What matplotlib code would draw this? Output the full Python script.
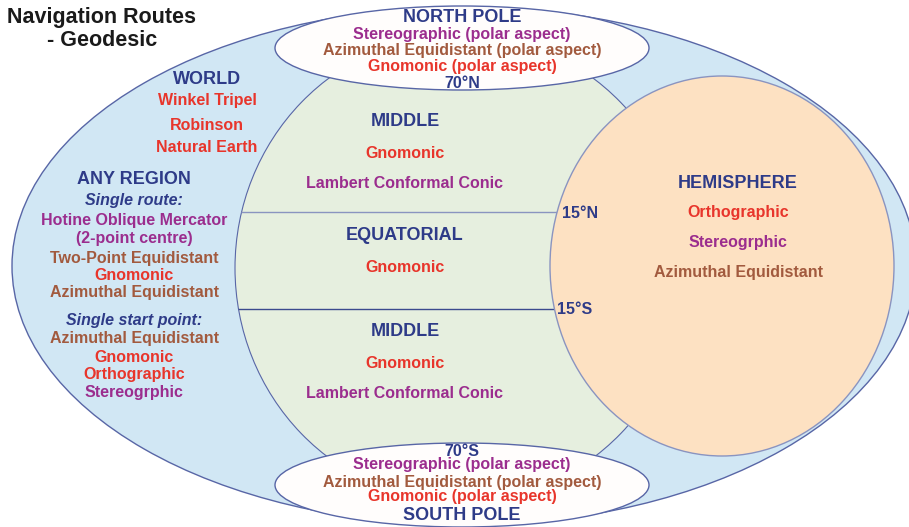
import matplotlib
matplotlib.use("Agg")
import matplotlib.pyplot as plt
from matplotlib.patches import Ellipse

plt.rcParams['font.family'] = ['Liberation Sans', 'DejaVu Sans']

# ---- content ----
title_lines = ["Navigation Routes", "- Geodesic"]
north_items = ["Stereographic (polar aspect)", "Azimuthal Equidistant (polar aspect)", "Gnomonic (polar aspect)"]
south_items = ["Stereographic (polar aspect)", "Azimuthal Equidistant (polar aspect)", "Gnomonic (polar aspect)"]
world_items = ["Winkel Tripel", "Robinson", "Natural Earth"]
single_route_items = ["Hotine Oblique Mercator", "(2-point centre)", "Two-Point Equidistant",
                      "Gnomonic", "Azimuthal Equidistant"]
single_start_items = ["Azimuthal Equidistant", "Gnomonic", "Orthographic", "Stereogrphic"]
middle_items = ["Gnomonic", "Lambert Conformal Conic"]
equatorial_items = ["Gnomonic"]
hemisphere_items = ["Orthographic", "Stereogrphic", "Azimuthal Equidistant"]
lat_labels = ["70°N", "15°N", "15°S", "70°S"]

NAVY = '#2e3b88'
PURPLE = '#9b2d8e'
BROWN = '#a25a3e'
RED = '#e8352b'
EDGE = '#5866a6'

fig = plt.figure(figsize=(9.09, 5.27), dpi=100)
ax = fig.add_axes([0, 0, 1, 1])
ax.set_xlim(0, 909)
ax.set_ylim(527, 0)
ax.axis('off')

# outer ellipse
ax.add_patch(Ellipse((464, 266), 904, 518, facecolor='#d1e7f4', edgecolor=EDGE, lw=1.0, zorder=1))
# green ellipse
green = Ellipse((461, 268), 452, 468, facecolor='#e6efdf', edgecolor=EDGE, lw=0.8, zorder=2)
ax.add_patch(green)
# latitude lines clipped to green
for yy, col in [(212, '#8a94c0'), (309, '#3b4a8e')]:
    ln, = ax.plot([200, 600], [yy, yy], color=col, lw=1.0, zorder=3)
    ln.set_clip_path(green)
# hemisphere
ax.add_patch(Ellipse((722, 266), 344, 380, facecolor='#fde1c2', edgecolor='#8a94c0', lw=1.0, zorder=4))
# poles
ax.add_patch(Ellipse((462, 48), 374, 84, facecolor='#fffdfc', edgecolor=EDGE, lw=1.0, zorder=5))
ax.add_patch(Ellipse((462, 485), 374, 84, facecolor='#fffdfc', edgecolor=EDGE, lw=1.0, zorder=5))

HS = 13
IS = 11.5

def t(x, y, s, color, size=IS, ha='center', style='normal'):
    ax.text(x, y, s, color=color, fontsize=size, ha=ha, va='center',
            fontweight='bold', fontstyle=style, zorder=10)

# title
t(7, 17, title_lines[0], '#1a1a1a', 15.5, ha='left')
t(102, 40, title_lines[1], '#1a1a1a', 15.5)

# north pole
t(462, 18, "NORTH POLE", NAVY, HS)
for y, s, c in zip([34, 51, 66], north_items, [PURPLE, BROWN, RED]):
    t(462, y, s, c)
t(462, 83, lat_labels[0], NAVY)

# south pole
t(462, 451, lat_labels[3], NAVY)
for y, s, c in zip([465, 482, 497], south_items, [PURPLE, BROWN, RED]):
    t(462, y, s, c)
t(462, 515, "SOUTH POLE", NAVY, HS)

# world
t(207, 80, "WORLD", NAVY, HS)
for y, s in zip([101, 125, 148], world_items):
    t(207, y, s, RED)

# any region
t(134, 179, "ANY REGION", NAVY, HS)
t(134, 200, "Single route:", NAVY, style='italic')
for y, s, c in zip([220, 239, 258, 276, 293], single_route_items, [PURPLE, PURPLE, BROWN, RED, BROWN]):
    t(134, y, s, c)
t(134, 321, "Single start point:", NAVY, style='italic')
for y, s, c in zip([339, 358, 375, 393], single_start_items, [BROWN, RED, RED, PURPLE]):
    t(134, y, s, c)

# middle / equatorial
t(405, 122, "MIDDLE", NAVY, HS)
t(405, 153, middle_items[0], RED)
t(405, 183, middle_items[1], PURPLE)
t(405, 236, "EQUATORIAL", NAVY, HS)
t(405, 267, equatorial_items[0], RED)
t(405, 332, "MIDDLE", NAVY, HS)
t(405, 363, middle_items[0], RED)
t(405, 393, middle_items[1], PURPLE)

# hemisphere
t(738, 183, "HEMISPHERE", NAVY, HS)
for y, s, c in zip([212, 242, 272], hemisphere_items, [RED, PURPLE, BROWN]):
    t(738, y, s, c)

t(562, 213, lat_labels[1], NAVY, ha='left')
t(557, 309, lat_labels[2], NAVY, ha='left')

fig.savefig('out.png', dpi=100)
